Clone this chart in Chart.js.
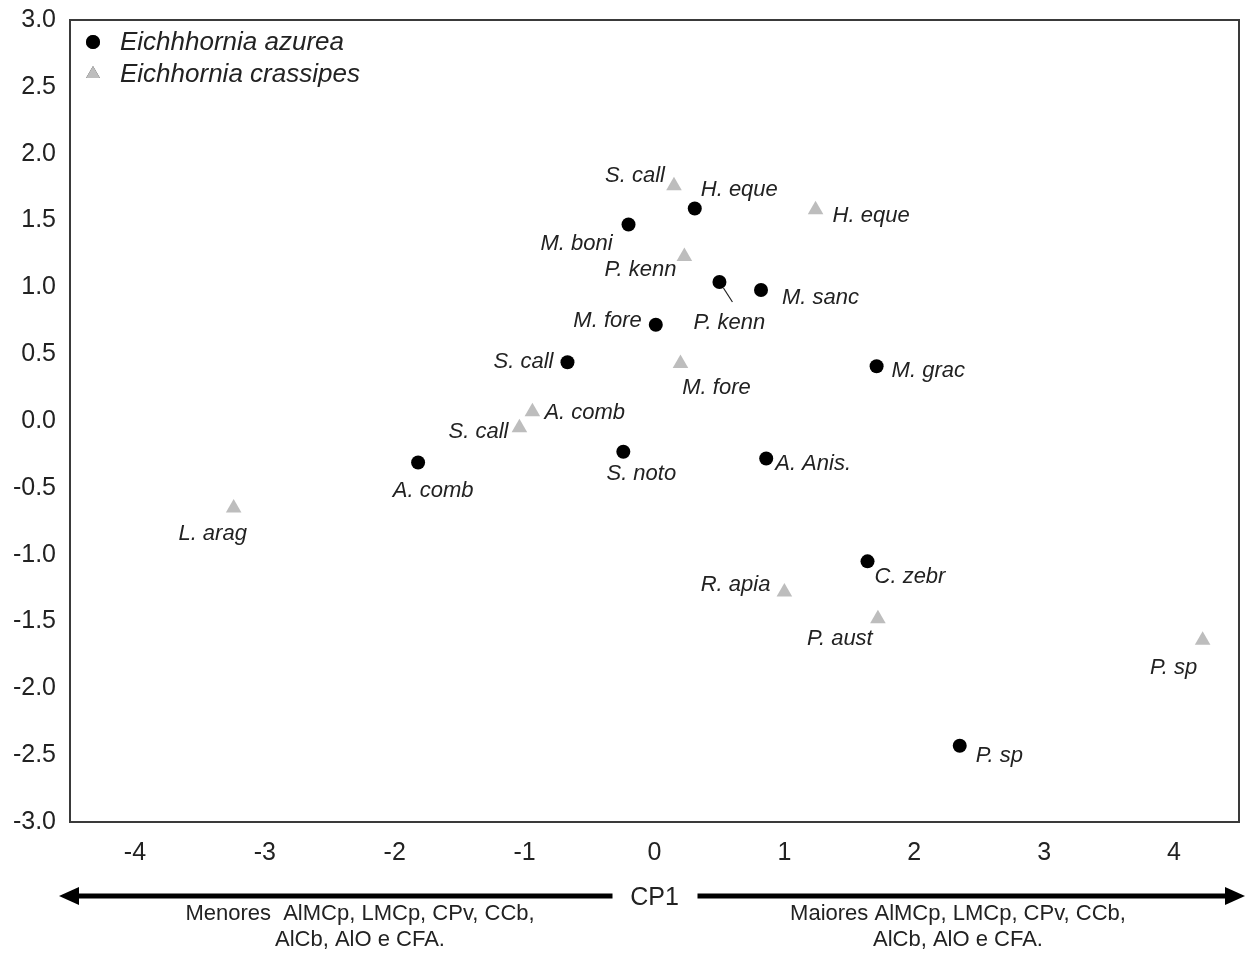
<!DOCTYPE html>
<html>
<head>
<meta charset="utf-8">
<script src="https://cdn.jsdelivr.net/npm/chart.js@4/dist/chart.umd.min.js"></script>
<style>
  html, body { margin: 0; padding: 0; background: #fff; }
  #c { display: block; }
</style>
</head>
<body>
<canvas id="c" width="1248" height="954"></canvas>
<script>
// ── data ──────────────────────────────────────────────────────────────────────
const xTicks = [-4, -3, -2, -1, 0, 1, 2, 3, 4]
const yTicks = [-3, -2.5, -2, -1.5, -1, -0.5, 0, 0.5, 1, 1.5, 2, 2.5, 3]

const azureaNames = ['H. eque', 'M. boni', 'P. kenn', 'M. sanc', 'M. fore', 'S. call',
                     'M. grac', 'S. noto', 'A. Anis.', 'A. comb', 'C. zebr', 'P. sp']
const azureaX     = [0.31, -0.20, 0.50, 0.82, 0.01, -0.67, 1.71, -0.24, 0.86, -1.82, 1.64, 2.35]
const azureaY     = [1.59, 1.47, 1.04, 0.98, 0.72, 0.44, 0.41, -0.23, -0.28, -0.31, -1.05, -2.43]

const crassNames  = ['S. call', 'H. eque', 'P. kenn', 'M. fore', 'A. comb', 'S. call',
                     'L. arag', 'R. apia', 'P. aust', 'P. sp']
const crassX      = [0.15, 1.24, 0.23, 0.20, -0.94, -1.04, -3.24, 1.00, 1.72, 4.22]
const crassY      = [1.76, 1.58, 1.23, 0.43, 0.07, -0.05, -0.65, -1.28, -1.48, -1.64]

// label placement next to each point: [dx, dy, align]
const azureaLabelPos = [[6,-19,'left'], [-16,19,'right'], [10,41,'center'], [21,8,'left'],
                        [-14,-4,'right'], [-14,0,'right'], [15,5,'left'], [18,22,'center'],
                        [9,5,'left'], [15,28,'center'], [7,16,'left'], [16,10,'left']]
const crassLabelPos  = [[-9,-10,'right'], [17,6,'left'], [-8,13,'right'], [36,24,'center'],
                        [12,1,'left'], [-11,4,'right'], [-21,26,'center'], [-14,-7,'right'],
                        [-38,20,'center'], [-29,28,'center']]

const TXT = '#222'
const FAMILY = '"Liberation Sans", Arial, sans-serif'

// ── plugin: point labels, legend, frame and CP1 arrows ────────────────────────
const decor = {
  id: 'decor',
  afterDatasetsDraw(chart) {
    const { ctx, chartArea: a } = chart
    ctx.save()
    ctx.font = 'italic 22px ' + FAMILY
    ctx.fillStyle = TXT
    ctx.textBaseline = 'middle'
    chart.data.datasets.forEach((ds, di) => {
      const meta = chart.getDatasetMeta(di)
      meta.data.forEach((pt, j) => {
        const [dx, dy, al] = ds._pos[j]
        ctx.textAlign = al
        ctx.fillText(ds._names[j], pt.x + dx, pt.y + dy)
      })
    })
    // leader line for E. azurea P. kenn
    const pk = chart.getDatasetMeta(0).data[2]
    ctx.strokeStyle = '#222'
    ctx.lineWidth = 1.2
    ctx.beginPath()
    ctx.moveTo(pk.x + 4, pk.y + 6); ctx.lineTo(pk.x + 13, pk.y + 20)
    ctx.stroke()

    // legend inside the frame
    ctx.font = 'italic 26px ' + FAMILY
    ctx.textAlign = 'left'
    chart.data.datasets.forEach((ds, di) => {
      const y = a.top + 22 + di * 32
      Chart.helpers.drawPoint(ctx, {
        pointStyle: ds.pointStyle, radius: ds.pointStyle === 'circle' ? 7 : 8, rotation: 0, borderWidth: 0,
      }, a.left + 23, y)
      ctx.fillStyle = ds.backgroundColor
      ctx.fill()
      ctx.fillStyle = TXT
      ctx.fillText(ds.label, a.left + 50, y + 1)
    })

    // frame
    ctx.strokeStyle = '#3a3a3a'
    ctx.lineWidth = 2
    ctx.strokeRect(a.left, a.top, a.right - a.left, a.bottom - a.top)
    ctx.restore()
  },
  afterDraw(chart) {
    const { ctx, chartArea: a, scales: { x } } = chart
    const cx = x.getPixelForValue(0)
    const y = 896
    ctx.save()
    ctx.fillStyle = '#000'
    ctx.strokeStyle = '#000'
    ctx.lineWidth = 5
    // left arrow
    ctx.beginPath(); ctx.moveTo(cx - 42, y); ctx.lineTo(a.left - 2, y); ctx.stroke()
    ctx.beginPath(); ctx.moveTo(a.left - 11, y); ctx.lineTo(a.left + 9, y - 9); ctx.lineTo(a.left + 9, y + 9); ctx.closePath(); ctx.fill()
    // right arrow
    ctx.beginPath(); ctx.moveTo(cx + 43, y); ctx.lineTo(a.right - 6, y); ctx.stroke()
    ctx.beginPath(); ctx.moveTo(a.right + 6, y); ctx.lineTo(a.right - 14, y - 9); ctx.lineTo(a.right - 14, y + 9); ctx.closePath(); ctx.fill()

    ctx.fillStyle = TXT
    ctx.textAlign = 'center'
    ctx.textBaseline = 'middle'
    ctx.font = '25px ' + FAMILY
    ctx.fillText('CP1', cx, y + 2)
    ctx.font = '22px ' + FAMILY
    ctx.fillText('Menores  AlMCp, LMCp, CPv, CCb,', 360, 914)
    ctx.fillText('AlCb, AlO e CFA.', 360, 940)
    ctx.fillText('Maiores AlMCp, LMCp, CPv, CCb,', 958, 914)
    ctx.fillText('AlCb, AlO e CFA.', 958, 940)
    ctx.restore()
  }
}

// ── chart ─────────────────────────────────────────────────────────────────────
const tickFont = { family: FAMILY, size: 25 }

new Chart(document.getElementById('c'), {
  type: 'scatter',
  data: {
    datasets: [
      {
        label: 'Eichhhornia azurea',
        data: azureaX.map((v, i) => ({ x: v, y: azureaY[i] })),
        pointStyle: 'circle', pointRadius: 7, pointBorderWidth: 0,
        backgroundColor: '#000', borderColor: '#000',
        _names: azureaNames, _pos: azureaLabelPos,
      },
      {
        label: 'Eichhornia crassipes',
        data: crassX.map((v, i) => ({ x: v, y: crassY[i] })),
        pointStyle: 'triangle', pointRadius: 9, pointBorderWidth: 0,
        backgroundColor: '#bdbdbd', borderColor: '#bdbdbd',
        _names: crassNames, _pos: crassLabelPos,
      },
    ],
  },
  options: {
    responsive: false,
    animation: false,
    layout: { padding: { left: 0, right: 8, top: 20, bottom: 82 } },
    plugins: { legend: { display: false }, tooltip: { enabled: false } },
    scales: {
      x: {
        type: 'linear', min: -4.5, max: 4.5,
        grid: { display: false, drawTicks: false },
        border: { display: false },
        ticks: { font: tickFont, color: TXT, padding: 16, maxRotation: 0 },
        afterBuildTicks: s => { s.ticks = xTicks.map(v => ({ value: v })) },
        afterFit: s => { s.height = 50; s.paddingLeft = 0; s.paddingRight = 0 },
      },
      y: {
        type: 'linear', min: -3, max: 3,
        grid: { display: false, drawTicks: false },
        border: { display: false },
        ticks: { font: tickFont, color: TXT, padding: 14, callback: v => v.toFixed(1) },
        afterBuildTicks: s => { s.ticks = yTicks.map(v => ({ value: v })) },
        afterFit: s => { s.width = 70; s.paddingTop = 0; s.paddingBottom = 0 },
      },
    },
  },
  plugins: [decor],
})
</script>
</body>
</html>
